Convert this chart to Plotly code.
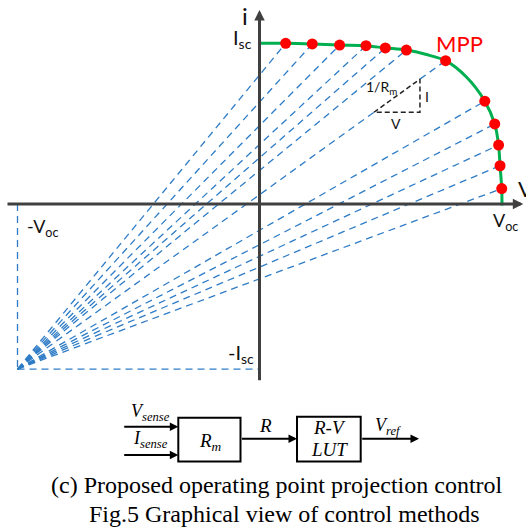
import plotly.graph_objects as go

# ---------------- data (normalised V, I units: Voc = 1, Isc = 1) ----------------
curve_v = [0.0, 0.108, 0.218, 0.331, 0.440, 0.520, 0.607, 0.690, 0.769, 0.855, 0.931, 0.972, 0.988, 0.994, 1.001, 1.002]
curve_i = [1.0, 1.000, 0.996, 0.989, 0.985, 0.971, 0.958, 0.930, 0.892, 0.790, 0.640, 0.498, 0.367, 0.238, 0.096, -0.01]

dots_v = [0.108, 0.218, 0.331, 0.440, 0.520, 0.607, 0.769, 0.931, 0.972, 0.988, 0.994, 1.001]
dots_i = [1.000, 0.996, 0.989, 0.985, 0.971, 0.958, 0.892, 0.640, 0.498, 0.367, 0.238, 0.096]
MPP_INDEX = 6

NEG_VOC = -1.0
NEG_ISC = -1.027

# slope triangle on the MPP projection line (V, I)
tri_v = [0.473, 0.663]

# ---------------- figure geometry ----------------
W, H = 526, 529
OX, OY = 259.5, 204.0   # pixel position of origin
SX, SY = 242.0, 160.7   # pixels per unit

x_range = [(0 - OX) / SX, (W - OX) / SX]
y_range = [(OY - H) / SY, (OY - 0) / SY]

def pxx(x):  # pixel -> paper
    return x / W

def pxy(y):
    return 1 - y / H

BLUE = "#2E7CC6"
GREEN = "#00B050"
AXIS = "#404040"

fig = go.Figure()

# projection lines from (-Voc, -Isc) to each operating point
lx, ly = [], []
mpp_line = None
for k, (v, i) in enumerate(zip(dots_v, dots_i)):
    if k == MPP_INDEX:
        slope = (i - NEG_ISC) / (v - NEG_VOC)
        t0 = NEG_ISC + slope * (tri_v[0] - NEG_VOC)
        t1 = NEG_ISC + slope * (tri_v[1] - NEG_VOC)
        lx += [NEG_VOC, tri_v[0], None, tri_v[1], v, None]
        ly += [NEG_ISC, t0, None, t1, i, None]
        mpp_line = (t0, t1)
    else:
        lx += [NEG_VOC, v, None]
        ly += [NEG_ISC, i, None]
# -Voc vertical and -Isc horizontal guides
lx += [NEG_VOC, NEG_VOC, None, NEG_VOC, 0, None]
ly += [0, NEG_ISC, None, NEG_ISC, NEG_ISC, None]

fig.add_trace(go.Scatter(x=lx, y=ly, mode="lines",
                         line=dict(color=BLUE, width=1.3, dash="7px,5px"),
                         hoverinfo="skip"))

# slope triangle (black dashed)
t0, t1 = mpp_line
fig.add_trace(go.Scatter(x=[tri_v[0], tri_v[1], tri_v[1], tri_v[0]],
                         y=[t0, t1, t0, t0], mode="lines",
                         line=dict(color="#222222", width=1.5, dash="5px,3px"),
                         hoverinfo="skip"))

# I-V curve
fig.add_trace(go.Scatter(x=curve_v, y=curve_i, mode="lines",
                         line=dict(color=GREEN, width=3, shape="spline", smoothing=0.8),
                         hoverinfo="skip"))

# operating points
fig.add_trace(go.Scatter(x=dots_v, y=dots_i, mode="markers",
                         marker=dict(color="#FF0000", size=11, line=dict(width=0)),
                         hoverinfo="skip"))

ann = []
# axes with arrow heads
ann.append(dict(x=(523.3 - OX) / SX, y=0, ax=(6 - OX) / SX, ay=0, xref="x", yref="y",
                axref="x", ayref="y", text="", showarrow=True, arrowhead=2,
                arrowsize=0.7, arrowwidth=3, arrowcolor=AXIS))
ann.append(dict(x=0, y=(OY - 10) / SY, ax=0, ay=(OY - 381.7) / SY, xref="x", yref="y",
                axref="x", ayref="y", text="", showarrow=True, arrowhead=2,
                arrowsize=0.7, arrowwidth=3, arrowcolor=AXIS))

SANS = "Lato, 'Open Sans', sans-serif"

def lab(x, y, text, size, color="#111111", xanchor="center"):
    ann.append(dict(x=x, y=y, xref="x", yref="y", text=text, showarrow=False,
                    xanchor=xanchor, yanchor="middle",
                    font=dict(family=SANS, size=size, color=color)))

lab(-0.058, 1.170, "i", 24)
lab(-0.070, 1.030, "I<sub>sc</sub>", 20)
lab(1.058, 0.098, "V", 22, xanchor="left")
lab(1.016, -0.110, "V<sub>oc</sub>", 18)
lab(-0.895, -0.145, "-V<sub>oc</sub>", 18)
lab(-0.078, -0.929, "-I<sub>sc</sub>", 20)
lab(0.825, 1.000, "MPP", 22, color="#FF0000")
lab(0.503, 0.726, "1/R<sub>m</sub>", 14)
lab(0.692, 0.668, "I", 14)
lab(0.563, 0.502, "V", 14)

# ---------------- block diagram (paper coords) ----------------
SERIF = "'Liberation Serif', 'Times New Roman', serif"
shapes = []
for (x0, y0, x1, y1) in [(178.3, 417.7, 240.5, 461.5), (297.0, 416.7, 360.7, 461.5)]:
    shapes.append(dict(type="rect", xref="paper", yref="paper",
                       x0=pxx(x0), x1=pxx(x1), y0=pxy(y1), y1=pxy(y0),
                       line=dict(color="black", width=2), fillcolor="white"))

def arrow(x_head, y, x_tail):
    ann.append(dict(x=pxx(x_head), y=pxy(y), xref="paper", yref="paper",
                    ax=x_tail - x_head, ay=0, axref="pixel", ayref="pixel",
                    text="", showarrow=True, arrowhead=2, arrowsize=0.85,
                    arrowwidth=2, arrowcolor="black"))

arrow(178.3, 426.7, 122.7)
arrow(178.3, 455.0, 122.7)
arrow(297.0, 438.8, 240.5)
arrow(419.0, 438.8, 360.7)

def blab(x, y, text, size):
    ann.append(dict(x=pxx(x), y=pxy(y), xref="paper", yref="paper", text=text,
                    showarrow=False, xanchor="center", yanchor="middle",
                    font=dict(family=SERIF, size=size, color="black")))

blab(150, 412, "<i>V<sub>sense</sub></i>", 18)
blab(150, 439, "<i>I<sub>sense</sub></i>", 18)
blab(210, 442, "<i>R<sub>m</sub></i>", 19)
blab(265, 425, "<i>R</i>", 19)
blab(329, 427, "<i>R-V</i>", 19)
blab(329, 449, "<i>LUT</i>", 19)
blab(388, 426, "<i>V<sub>ref</sub></i>", 18)
blab(276.5, 485, "(c) Proposed operating point projection control", 24)
blab(284, 514, "Fig.5 Graphical view of control methods", 24)

fig.update_layout(
    width=W, height=H, margin=dict(l=0, r=0, t=0, b=0),
    paper_bgcolor="white", plot_bgcolor="white", showlegend=False,
    xaxis=dict(range=x_range, visible=False, fixedrange=True),
    yaxis=dict(range=y_range, visible=False, fixedrange=True),
    annotations=ann, shapes=shapes,
)

fig.write_html("out.html")
